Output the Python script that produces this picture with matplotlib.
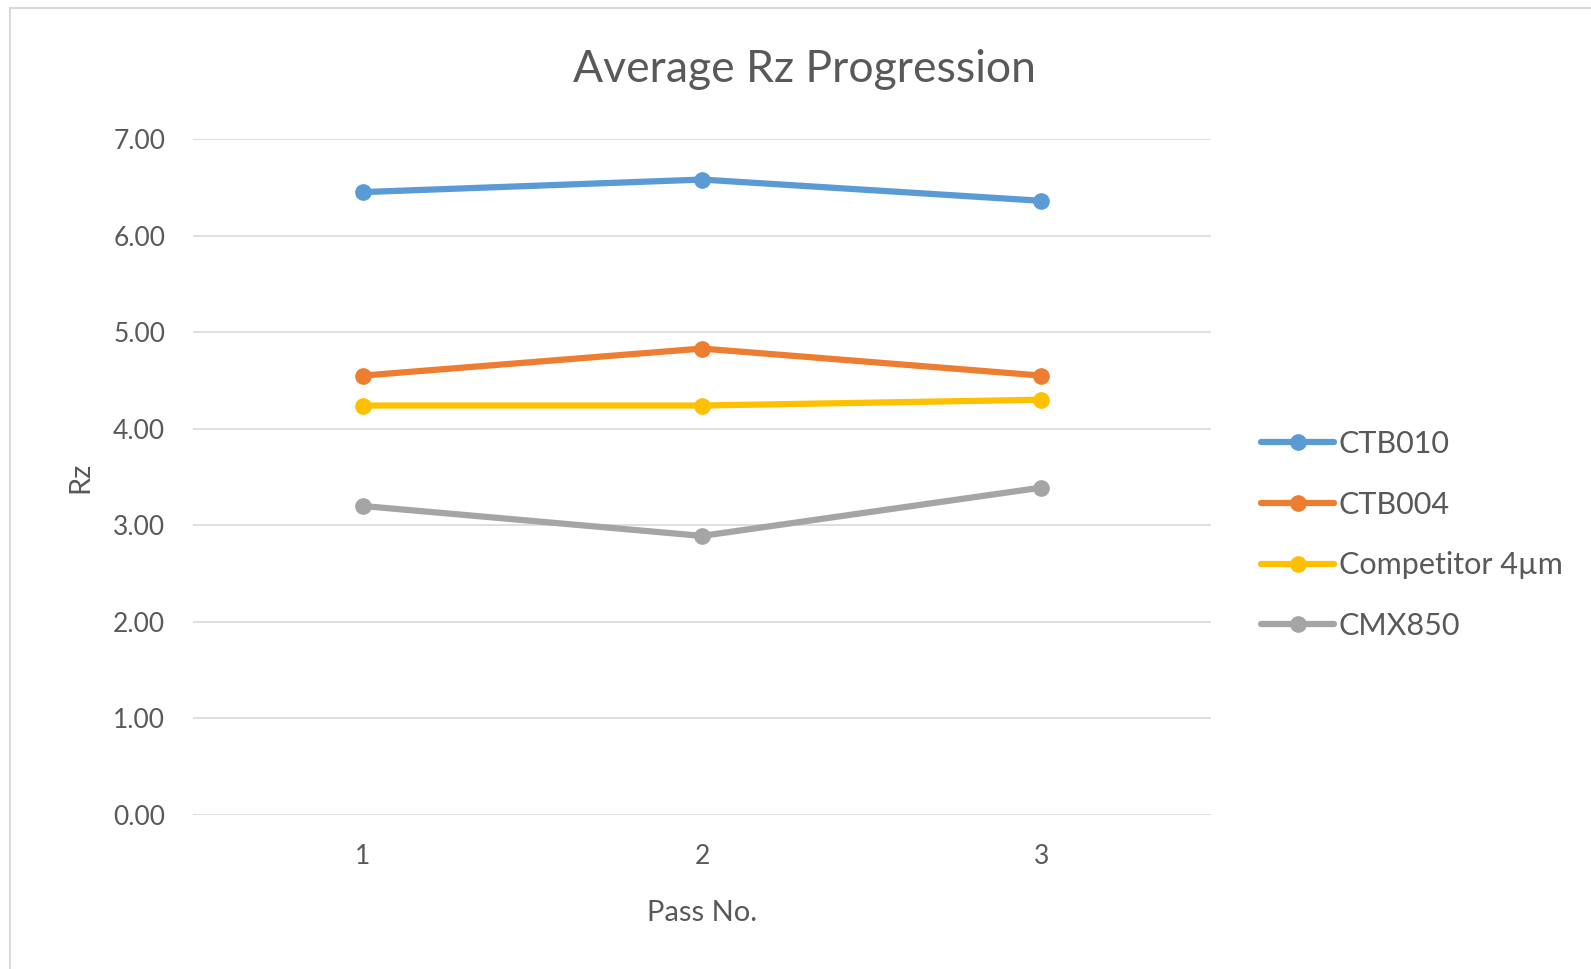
import matplotlib.pyplot as plt
from matplotlib.patches import Rectangle

passes = [1, 2, 3]
pass_labels = ['1', '2', '3']
series_names = ['CTB010', 'CTB004', 'Competitor 4µm', 'CMX850']
ctb010 = [6.45, 6.58, 6.36]
ctb004 = [4.55, 4.83, 4.55]
competitor = [4.24, 4.24, 4.30]
cmx850 = [3.20, 2.89, 3.39]
colors = ['#5B9BD5', '#ED7D31', '#FFC000', '#A5A5A5']
y_ticks = [0, 1, 2, 3, 4, 5, 6, 7]

plt.rcParams['font.family'] = ['Lato', 'DejaVu Sans']
txt = '#595959'

fig = plt.figure(figsize=(15.91, 9.69), dpi=100)
# light frame around the chart area (open at the bottom/right like the source)
fig.patches.append(Rectangle((10 / 1591, -0.05), 1.0, 1.05 - 8 / 969,
                             transform=fig.transFigure, fill=False,
                             edgecolor='#d9d9d9', linewidth=1.5))

ax = fig.add_axes([193 / 1591, 154 / 969, 1018 / 1591, 676 / 969])

for vals, name, c in zip([ctb010, ctb004, competitor, cmx850], series_names, colors):
    ax.plot(passes, vals, color=c, linewidth=4.5, marker='o', markersize=11,
            label=name, solid_capstyle='round')

ax.set_xlim(0.5, 3.5)
ax.set_ylim(0, 7)
ax.set_yticks(y_ticks)
ax.set_yticklabels(['%.2f' % v for v in y_ticks])
ax.set_xticks(passes)
ax.set_xticklabels(pass_labels)
ax.grid(axis='y', color='#d9d9d9', linewidth=1.2)
ax.set_axisbelow(True)
for s in ax.spines.values():
    s.set_visible(False)
ax.tick_params(length=0, labelsize=19, colors=txt)
ax.tick_params(axis='y', pad=20)
ax.tick_params(axis='x', pad=21)

fig.text(804 / 1591, 1 - 69 / 969, 'Average Rz Progression', fontsize=32,
         color=txt, ha='center', va='center')
ax.set_xlabel('Pass No.', fontsize=21, color=txt, labelpad=22)
ax.set_ylabel('Rz', fontsize=21, color=txt, labelpad=14)

ax.legend(loc='center left', bbox_to_anchor=(1261 / 1591, 1 - 535 / 969),
          bbox_transform=fig.transFigure, frameon=False, fontsize=22,
          handlelength=2.4, handletextpad=0.15, labelspacing=1.07,
          borderpad=0, borderaxespad=0, labelcolor=txt)

plt.savefig('out.png', dpi=100)
